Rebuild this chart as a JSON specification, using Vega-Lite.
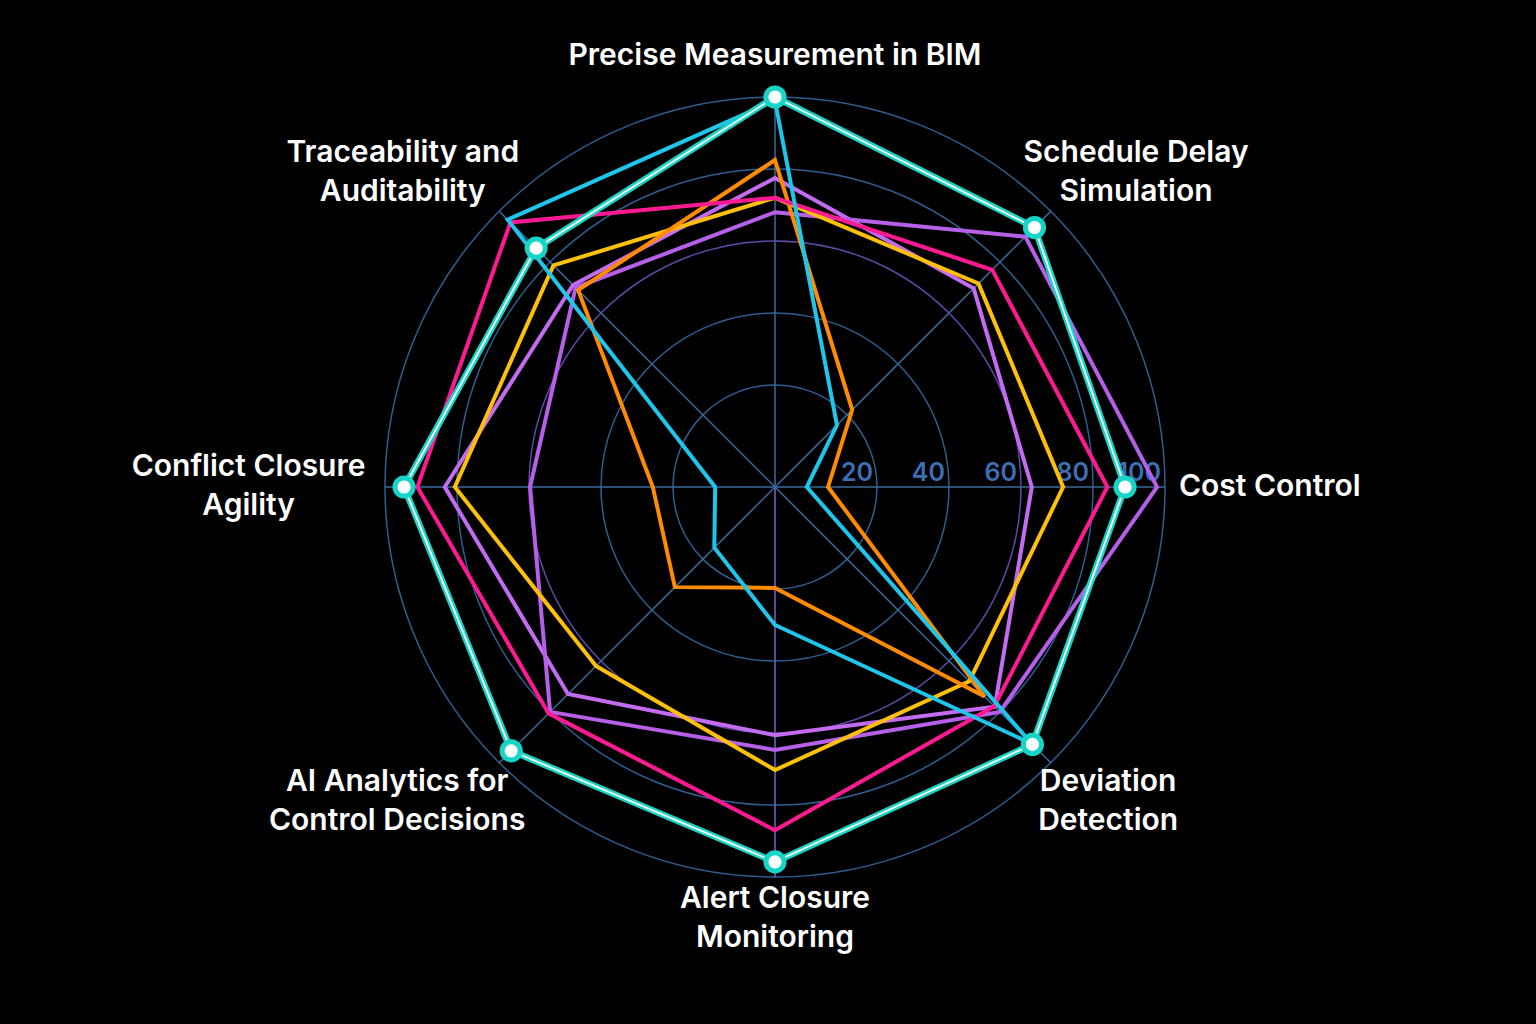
{
  "$schema": "https://vega.github.io/schema/vega-lite/v6.json",
  "width": 960,
  "height": 960,
  "autosize": {"type": "none"},
  "padding": {"left": 295, "top": 7, "right": 281, "bottom": 57},
  "background": "#000000",
  "config": {"view": {"stroke": null}},
  "datasets": {
    "axes": [
      {"axis": "Precise Measurement in BIM", "idx": 0, "label": "Precise Measurement in BIM"},
      {"axis": "Schedule Delay Simulation", "idx": 1, "label": "Schedule Delay\nSimulation"},
      {"axis": "Cost Control", "idx": 2, "label": "Cost Control"},
      {"axis": "Deviation Detection", "idx": 3, "label": "Deviation\nDetection"},
      {"axis": "Alert Closure Monitoring", "idx": 4, "label": "Alert Closure\nMonitoring"},
      {"axis": "AI Analytics for Control Decisions", "idx": 5, "label": "AI Analytics for\nControl Decisions"},
      {"axis": "Conflict Closure Agility", "idx": 6, "label": "Conflict Closure\nAgility"},
      {"axis": "Traceability and Auditability", "idx": 7, "label": "Traceability and\nAuditability"}
    ],
    "rings": [{"tick": 20}, {"tick": 40}, {"tick": 60}, {"tick": 80}, {"tick": 100}],
    "scores": [
      {"series": "Integrated", "axis": "Precise Measurement in BIM", "value": 100},
      {"series": "Integrated", "axis": "Schedule Delay Simulation", "value": 93.6},
      {"series": "Integrated", "axis": "Cost Control", "value": 88.9},
      {"series": "Integrated", "axis": "Deviation Detection", "value": 92.8},
      {"series": "Integrated", "axis": "Alert Closure Monitoring", "value": 95.8},
      {"series": "Integrated", "axis": "AI Analytics for Control Decisions", "value": 95.3},
      {"series": "Integrated", "axis": "Conflict Closure Agility", "value": 94.7},
      {"series": "Integrated", "axis": "Traceability and Auditability", "value": 85.5},

      {"series": "Purple A", "axis": "Precise Measurement in BIM", "value": 77.5},
      {"series": "Purple A", "axis": "Schedule Delay Simulation", "value": 69.7},
      {"series": "Purple A", "axis": "Cost Control", "value": 63},
      {"series": "Purple A", "axis": "Deviation Detection", "value": 78},
      {"series": "Purple A", "axis": "Alert Closure Monitoring", "value": 60.6},
      {"series": "Purple A", "axis": "AI Analytics for Control Decisions", "value": 73},
      {"series": "Purple A", "axis": "Conflict Closure Agility", "value": 83.4},
      {"series": "Purple A", "axis": "Traceability and Auditability", "value": 71},

      {"series": "Purple B", "axis": "Precise Measurement in BIM", "value": 68},
      {"series": "Purple B", "axis": "Schedule Delay Simulation", "value": 90},
      {"series": "Purple B", "axis": "Cost Control", "value": 97.8},
      {"series": "Purple B", "axis": "Deviation Detection", "value": 80},
      {"series": "Purple B", "axis": "Alert Closure Monitoring", "value": 64.7},
      {"series": "Purple B", "axis": "AI Analytics for Control Decisions", "value": 80},
      {"series": "Purple B", "axis": "Conflict Closure Agility", "value": 59.7},
      {"series": "Purple B", "axis": "Traceability and Auditability", "value": 70},

      {"series": "Yellow", "axis": "Precise Measurement in BIM", "value": 72},
      {"series": "Yellow", "axis": "Schedule Delay Simulation", "value": 71.6},
      {"series": "Yellow", "axis": "Cost Control", "value": 71.7},
      {"series": "Yellow", "axis": "Deviation Detection", "value": 68},
      {"series": "Yellow", "axis": "Alert Closure Monitoring", "value": 70.3},
      {"series": "Yellow", "axis": "AI Analytics for Control Decisions", "value": 62},
      {"series": "Yellow", "axis": "Conflict Closure Agility", "value": 80.6},
      {"series": "Yellow", "axis": "Traceability and Auditability", "value": 78.7},

      {"series": "Orange", "axis": "Precise Measurement in BIM", "value": 82.5},
      {"series": "Orange", "axis": "Schedule Delay Simulation", "value": 22},
      {"series": "Orange", "axis": "Cost Control", "value": 6.4},
      {"series": "Orange", "axis": "Deviation Detection", "value": 74},
      {"series": "Orange", "axis": "Alert Closure Monitoring", "value": 19.7},
      {"series": "Orange", "axis": "AI Analytics for Control Decisions", "value": 31},
      {"series": "Orange", "axis": "Conflict Closure Agility", "value": 25.6},
      {"series": "Orange", "axis": "Traceability and Auditability", "value": 69},

      {"series": "Pink", "axis": "Precise Measurement in BIM", "value": 72},
      {"series": "Pink", "axis": "Schedule Delay Simulation", "value": 77},
      {"series": "Pink", "axis": "Cost Control", "value": 84},
      {"series": "Pink", "axis": "Deviation Detection", "value": 77.8},
      {"series": "Pink", "axis": "Alert Closure Monitoring", "value": 87},
      {"series": "Pink", "axis": "AI Analytics for Control Decisions", "value": 80.6},
      {"series": "Pink", "axis": "Conflict Closure Agility", "value": 91},
      {"series": "Pink", "axis": "Traceability and Auditability", "value": 95.6},

      {"series": "Cyan", "axis": "Precise Measurement in BIM", "value": 99},
      {"series": "Cyan", "axis": "Schedule Delay Simulation", "value": 16},
      {"series": "Cyan", "axis": "Cost Control", "value": 0.5},
      {"series": "Cyan", "axis": "Deviation Detection", "value": 92.5},
      {"series": "Cyan", "axis": "Alert Closure Monitoring", "value": 30},
      {"series": "Cyan", "axis": "AI Analytics for Control Decisions", "value": 15.5},
      {"series": "Cyan", "axis": "Conflict Closure Agility", "value": 8.3},
      {"series": "Cyan", "axis": "Traceability and Auditability", "value": 96.7}
    ]
  },
  "layer": [
    {
      "data": {"name": "rings"},
      "transform": [{"calculate": "datum.tick + 8.333", "as": "tr"}],
      "mark": {"type": "point", "shape": "circle", "filled": false, "strokeWidth": 1.5, "opacity": 1},
      "encoding": {
        "x": {"datum": 0, "type": "quantitative", "scale": {"domain": [-133.333, 133.333]}, "axis": null},
        "y": {"datum": 0, "type": "quantitative", "scale": {"domain": [-133.333, 133.333]}, "axis": null},
        "size": {"field": "tr", "type": "quantitative", "legend": null, "scale": {"type": "pow", "exponent": 2, "zero": true, "domain": [0, 108.333], "range": [0, 608400]}},
        "stroke": {"condition": {"test": "datum.tick == 60", "value": "#5e4aa8"}, "value": "#2d5f92"}
      }
    },
    {
      "data": {"name": "axes"},
      "transform": [
        {"calculate": "PI/2 - datum.idx*PI/4", "as": "ang"},
        {"calculate": "108.333*cos(datum.ang)", "as": "ex"},
        {"calculate": "108.333*sin(datum.ang)", "as": "ey"}
      ],
      "mark": {"type": "rule", "strokeWidth": 1.5},
      "encoding": {
        "x": {"field": "ex", "type": "quantitative", "scale": {"domain": [-133.333, 133.333]}, "axis": null},
        "y": {"field": "ey", "type": "quantitative", "scale": {"domain": [-133.333, 133.333]}, "axis": null},
        "x2": {"datum": 0},
        "y2": {"datum": 0},
        "stroke": {"condition": {"test": "datum.idx == 4", "value": "#7a62c4"}, "value": "#3a6b9b"}
      }
    },
    {
      "data": {"name": "rings"},
      "transform": [{"calculate": "datum.tick + 8.333", "as": "tx"}],
      "mark": {"type": "text", "align": "right", "baseline": "bottom", "dx": -4, "dy": -1, "fontSize": 25, "font": "Inter", "fontWeight": 600, "color": "#3b6fb6"},
      "encoding": {
        "x": {"field": "tx", "type": "quantitative", "scale": {"domain": [-133.333, 133.333]}, "axis": null},
        "y": {"datum": 0, "type": "quantitative", "scale": {"domain": [-133.333, 133.333]}, "axis": null},
        "text": {"field": "tick", "type": "quantitative"}
      }
    },
    {
      "data": {"name": "scores"},
      "transform": [
        {"filter": "datum.series != 'Integrated'"},
        {"lookup": "axis", "from": {"data": {"name": "axes"}, "key": "axis", "fields": ["idx"]}},
        {"calculate": "PI/2 - datum.idx*PI/4", "as": "ang"},
        {"calculate": "(datum.value + 8.333)*cos(datum.ang)", "as": "px"},
        {"calculate": "(datum.value + 8.333)*sin(datum.ang)", "as": "py"}
      ],
      "mark": {"type": "line", "strokeWidth": 4, "interpolate": "linear-closed", "strokeJoin": "miter"},
      "encoding": {
        "x": {"field": "px", "type": "quantitative", "scale": {"domain": [-133.333, 133.333]}, "axis": null},
        "y": {"field": "py", "type": "quantitative", "scale": {"domain": [-133.333, 133.333]}, "axis": null},
        "color": {"field": "series", "type": "nominal", "legend": null,
          "scale": {"domain": ["Purple A", "Purple B", "Yellow", "Orange", "Pink", "Cyan"],
                    "range": ["#c36cf2", "#b65fe8", "#ffc107", "#ff8c00", "#ff1a93", "#1dc6ea"]}},
        "order": {"field": "idx", "type": "quantitative"}
      }
    },
    {
      "data": {"name": "scores"},
      "transform": [
        {"filter": "datum.series == 'Integrated'"},
        {"lookup": "axis", "from": {"data": {"name": "axes"}, "key": "axis", "fields": ["idx"]}},
        {"calculate": "PI/2 - datum.idx*PI/4", "as": "ang"},
        {"calculate": "(datum.value + 8.333)*cos(datum.ang)", "as": "px"},
        {"calculate": "(datum.value + 8.333)*sin(datum.ang)", "as": "py"}
      ],
      "layer": [
        {
          "mark": {"type": "line", "strokeWidth": 6.5, "interpolate": "linear-closed", "stroke": "#16d4c6"},
          "encoding": {
            "x": {"field": "px", "type": "quantitative", "scale": {"domain": [-133.333, 133.333]}, "axis": null},
            "y": {"field": "py", "type": "quantitative", "scale": {"domain": [-133.333, 133.333]}, "axis": null},
            "order": {"field": "idx", "type": "quantitative"}
          }
        },
        {
          "mark": {"type": "line", "strokeWidth": 1.8, "interpolate": "linear-closed", "stroke": "#ffffff"},
          "encoding": {
            "x": {"field": "px", "type": "quantitative", "scale": {"domain": [-133.333, 133.333]}, "axis": null},
            "y": {"field": "py", "type": "quantitative", "scale": {"domain": [-133.333, 133.333]}, "axis": null},
            "order": {"field": "idx", "type": "quantitative"}
          }
        },
        {
          "mark": {"type": "point", "shape": "circle", "filled": true, "fill": "#ffffff", "stroke": "#16d4c6", "strokeWidth": 5, "size": 330, "opacity": 1},
          "encoding": {
            "x": {"field": "px", "type": "quantitative", "scale": {"domain": [-133.333, 133.333]}, "axis": null},
            "y": {"field": "py", "type": "quantitative", "scale": {"domain": [-133.333, 133.333]}, "axis": null}
          }
        }
      ]
    },
    {
      "data": {"name": "axes"},
      "transform": [
        {"calculate": "PI/2 - datum.idx*PI/4", "as": "ang"},
        {"calculate": "split(datum.label, '\\n')", "as": "lines"},
        {"calculate": "max(length(datum.lines[0]), length(datum.lines[1] || ''))", "as": "L"},
        {"calculate": "cos(datum.ang)*(400 + 7.9*datum.L)/3.6", "as": "lx"},
        {"calculate": "(sin(datum.ang)*(431 + 14*abs(sin(2*datum.ang))) + (length(datum.lines) - 1)*19.5)/3.6", "as": "ly"}
      ],
      "mark": {"type": "text", "align": "center", "baseline": "middle", "lineBreak": "\n", "lineHeight": 39, "fontSize": 30, "font": "Inter", "fontWeight": 600, "color": "#ffffff"},
      "encoding": {
        "x": {"field": "lx", "type": "quantitative", "scale": {"domain": [-133.333, 133.333]}, "axis": null},
        "y": {"field": "ly", "type": "quantitative", "scale": {"domain": [-133.333, 133.333]}, "axis": null},
        "text": {"field": "label", "type": "nominal"}
      }
    }
  ]
}
